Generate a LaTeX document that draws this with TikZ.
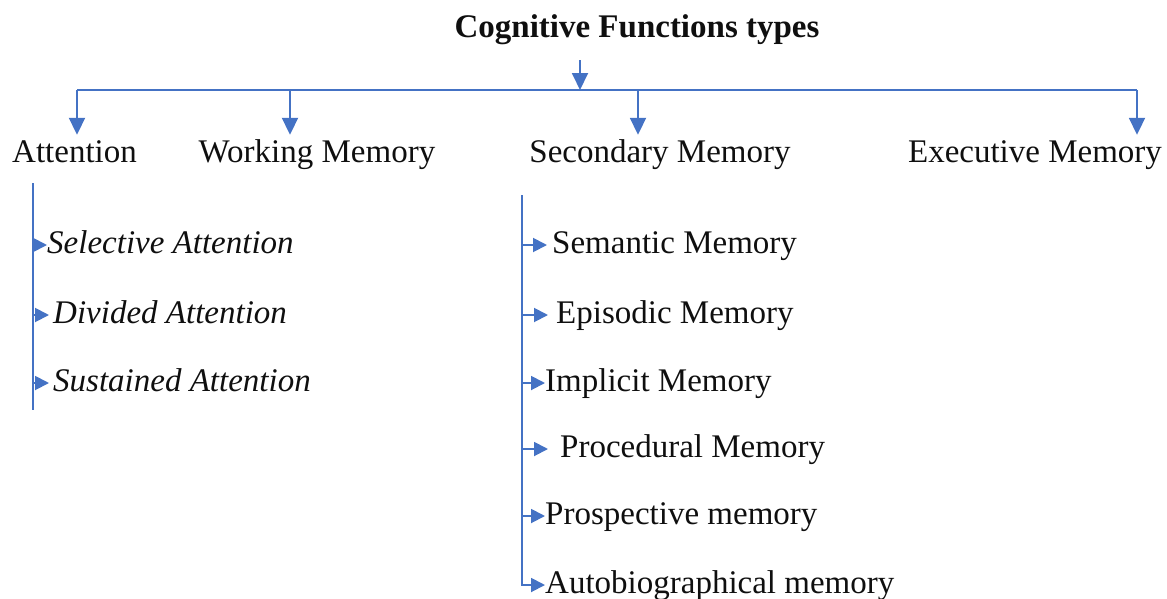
\documentclass[tikz,border=0pt]{standalone}
\usepackage{fontspec}
\setmainfont{Liberation Serif}
\usetikzlibrary{arrows.meta}
\definecolor{linkblue}{RGB}{68,114,196}
\definecolor{ink}{RGB}{15,15,15}
\tikzset{
  txt/.style={font=\fontsize{33}{36}\selectfont, text=ink, inner sep=0pt},
  heading/.style={txt, anchor=base, text height=24pt, text depth=8pt, inner ysep=3pt},
  item/.style={txt, anchor=west, text height=23pt, text depth=7pt, yshift=-3pt},
  link/.style={draw=linkblue, line width=1.9pt},
  bigarrow/.style={link, -{Triangle[width=16pt,length=17pt]}},
  smallarrow/.style={link, -{Triangle[width=14pt,length=14pt]}},
}
\begin{document}
\begin{tikzpicture}[x=1pt,y=-1pt]
\useasboundingbox (0,0) rectangle (1167,598);

% title
\node[txt, font=\fontsize{33}{36}\selectfont\bfseries, anchor=base,
      text depth=8pt, inner ysep=15pt] (title) at (637,37) {Cognitive Functions types};

% main categories
\node[heading] (att) at (74.5,162) {Attention};
\node[heading] (wm)  at (317,162) {Working Memory};
\node[heading] (sec) at (660,162) {Secondary Memory};
\node[heading] (exe) at (1035,162) {Executive Memory};

% distribution bus
\coordinate (hub) at (580,90);
\coordinate (bA) at (77,90);
\coordinate (bW) at (290,90);
\coordinate (bS) at (638,90);
\coordinate (bE) at (1137,90);
\draw[bigarrow] (hub |- title.south) -- (hub);
\draw[link] (bA) -- (bE);
\draw[bigarrow] (bA) -- (bA |- att.north);
\draw[bigarrow] (bW) -- (bW |- wm.north);
\draw[bigarrow] (bS) -- (bS |- sec.north);
\draw[bigarrow] (bE) -- (bE |- exe.north);

% attention sub-types
\coordinate (aTop) at (33,183);
\coordinate (aBot) at (33,410);
\draw[link] (aTop) -- (aBot);
\node[item, font=\fontsize{33}{36}\selectfont\itshape] (sel) at (47,242) {Selective Attention};
\node[item, font=\fontsize{33}{36}\selectfont\itshape] (div) at (53,312) {Divided Attention};
\node[item, font=\fontsize{33}{36}\selectfont\itshape] (sus) at (53,380) {Sustained Attention};
\draw[smallarrow] (aTop |- sel.west) -- (sel.west);
\draw[smallarrow, shorten >=4pt] (aTop |- div.west) -- (div.west);
\draw[smallarrow, shorten >=4pt] (aTop |- sus.west) -- (sus.west);

% secondary memory sub-types
\coordinate (sTop) at (522,195);
\node[item] (sem) at (552,242) {Semantic Memory};
\node[item] (epi) at (556,312) {Episodic Memory};
\node[item] (imp) at (545,380) {Implicit Memory};
\node[item] (pro) at (560,446) {Procedural Memory};
\node[item] (psp) at (545,513) {Prospective memory};
\node[item] (aut) at (545,582) {Autobiographical memory};
\draw[smallarrow] (sTop) |- (aut.west);
\draw[smallarrow, shorten >=5pt] (sTop |- sem.west) -- (sem.west);
\draw[smallarrow, shorten >=8pt] (sTop |- epi.west) -- (epi.west);
\draw[smallarrow] (sTop |- imp.west) -- (imp.west);
\draw[smallarrow, shorten >=12pt] (sTop |- pro.west) -- (pro.west);
\draw[smallarrow] (sTop |- psp.west) -- (psp.west);
\end{tikzpicture}
\end{document}
